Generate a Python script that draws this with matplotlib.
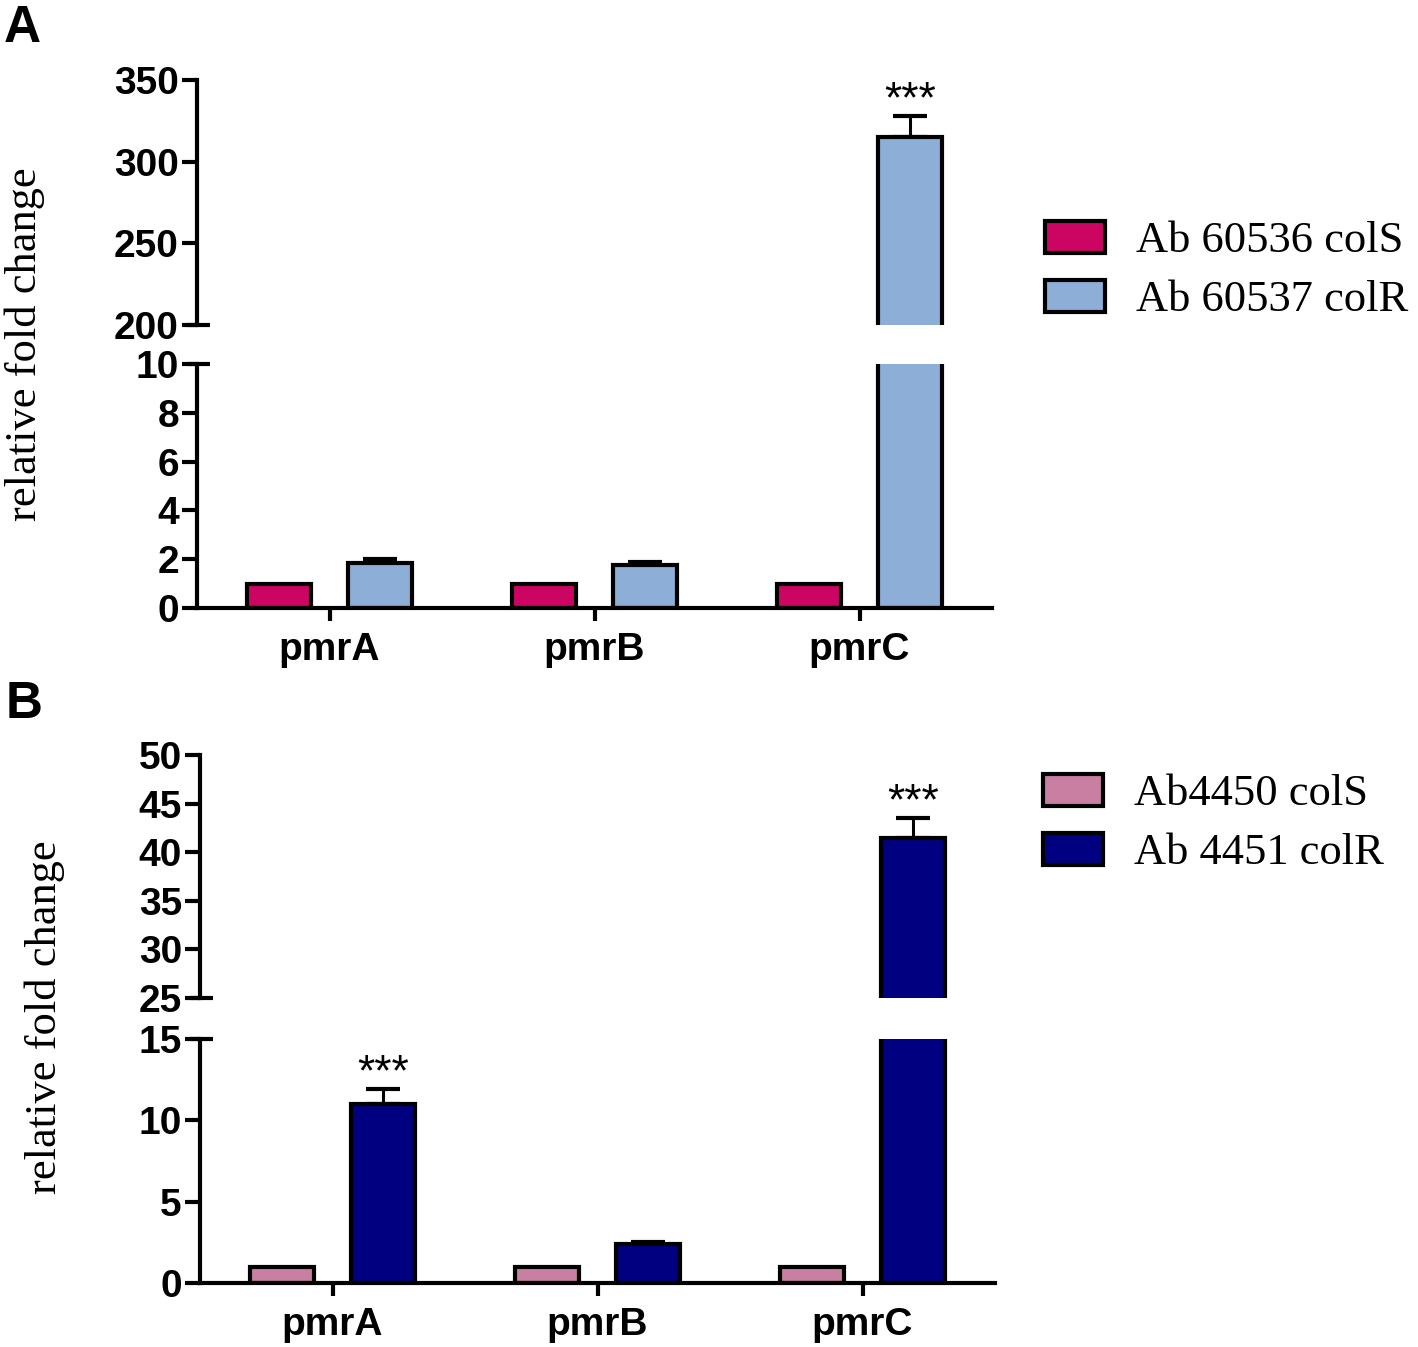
import numpy as np
import matplotlib
matplotlib.use("Agg")
import matplotlib.pyplot as plt

genes = ["pmrA", "pmrB", "pmrC"]

# panel A
a_labels = ["Ab 60536 colS", "Ab 60537 colR"]
a_cols = [1.0, 1.0, 1.0]
a_colr = [1.85, 1.78, 315.0]
a_colr_err = [0.15, 0.10, 13.0]
a_sig = ["", "", "***"]

# panel B
b_labels = ["Ab4450 colS", "Ab 4451 colR"]
b_cols = [1.0, 1.0, 1.0]
b_colr = [11.0, 2.4, 41.5]
b_colr_err = [0.95, 0.10, 2.0]
b_sig = ["***", "", "***"]

W, H = 1418, 1347
SANS = "Liberation Sans"
SERIF = "Liberation Serif"
LW = 3.0

fig = plt.figure(figsize=(W / 100, H / 100), dpi=100)


def px_axes(x0, x1, ytop, ybot):
    return fig.add_axes([x0 / W, 1 - ybot / H, (x1 - x0) / W, (ybot - ytop) / H])


def style_axis(ax, ylim, yticks, bottom):
    ax.set_xlim(-0.5, 2.5)
    ax.set_ylim(*ylim)
    ax.set_yticks(yticks)
    for s in ["top", "right"]:
        ax.spines[s].set_visible(False)
    ax.spines["left"].set_linewidth(LW)
    ax.tick_params(axis="y", length=11, width=LW, pad=2, labelsize=28)
    for lab in ax.get_yticklabels():
        lab.set_fontfamily(SANS)
        lab.set_fontweight("bold")
    if bottom:
        ax.spines["bottom"].set_linewidth(LW)
        ax.set_xticks(range(len(genes)))
        ax.set_xticklabels(genes, fontsize=28, fontweight="bold", fontfamily=SANS)
        ax.tick_params(axis="x", length=9, width=LW, pad=8)
    else:
        ax.spines["bottom"].set_visible(False)
        ax.set_xticks([])
    # the tick at the break sticks out on both sides
    yb = ylim[1] if bottom else ylim[0]
    ax.plot([-0.012, 0.016], [yb, yb], color="black", lw=LW,
            transform=ax.get_yaxis_transform(), clip_on=False, solid_capstyle="butt")


def draw_panel(axes_list, s_vals, r_vals, r_err, sig, colors, labels, legend_xy):
    x = np.arange(len(genes))
    off, w = 0.19, 0.24
    handles = None
    for ax in axes_list:
        b1 = ax.bar(x - off, s_vals, w, color=colors[0], edgecolor="black",
                    linewidth=LW, label=labels[0], zorder=2)
        b2 = ax.bar(x + off, r_vals, w, color=colors[1], edgecolor="black",
                    linewidth=LW, label=labels[1], zorder=2)
        ax.errorbar(x + off, r_vals, yerr=[np.zeros(len(r_vals)), r_err], fmt="none",
                    ecolor="black", elinewidth=2.2, capsize=12, capthick=3, zorder=1)
        handles = [b1, b2]
        lo, hi = ax.get_ylim()
        for xi, v, e, s in zip(x + off, r_vals, r_err, sig):
            top = v + e
            if s and lo <= top <= hi:
                ax.annotate(s, (xi, top), xytext=(0, -4), textcoords="offset points",
                            ha="center", va="bottom", fontsize=32, fontfamily=SANS)
    fig.legend(handles, labels, loc="upper left", bbox_to_anchor=legend_xy,
               frameon=False, prop={"family": SERIF, "size": 32},
               handlelength=1.35, handleheight=0.72, handletextpad=0.7,
               labelspacing=0.42, borderpad=0, borderaxespad=0)


# panel A
a_up = px_axes(197, 992, 80, 325)
a_lo = px_axes(197, 992, 364, 608)
style_axis(a_up, (200, 350), [200, 250, 300, 350], bottom=False)
style_axis(a_lo, (0, 10), [0, 2, 4, 6, 8, 10], bottom=True)
draw_panel([a_up, a_lo], a_cols, a_colr, a_colr_err, a_sig,
           ["#CC0563", "#8DAED7"], a_labels, (1045 / W, 1 - 221 / H))

# panel B
b_up = px_axes(200, 995, 755, 998)
b_lo = px_axes(200, 995, 1039, 1283)
style_axis(b_up, (25, 50), [25, 30, 35, 40, 45, 50], bottom=False)
style_axis(b_lo, (0, 15), [0, 5, 10, 15], bottom=True)
draw_panel([b_up, b_lo], b_cols, b_colr, b_colr_err, b_sig,
           ["#C87FA2", "#000080"], b_labels, (1043 / W, 1 - 774 / H))

fig.text(25 / W, 1 - 344 / H, "relative fold change", rotation=90, ha="center",
         va="center", fontsize=32, fontfamily=SERIF)
fig.text(45 / W, 1 - 1017 / H, "relative fold change", rotation=90, ha="center",
         va="center", fontsize=32, fontfamily=SERIF)

fig.text(4 / W, 1 - 4 / H, "A", ha="left", va="top", fontsize=37,
         fontweight="bold", fontfamily=SANS)
fig.text(6 / W, 1 - 680 / H, "B", ha="left", va="top", fontsize=37,
         fontweight="bold", fontfamily=SANS)

fig.savefig("out.png", dpi=100, facecolor="white")
